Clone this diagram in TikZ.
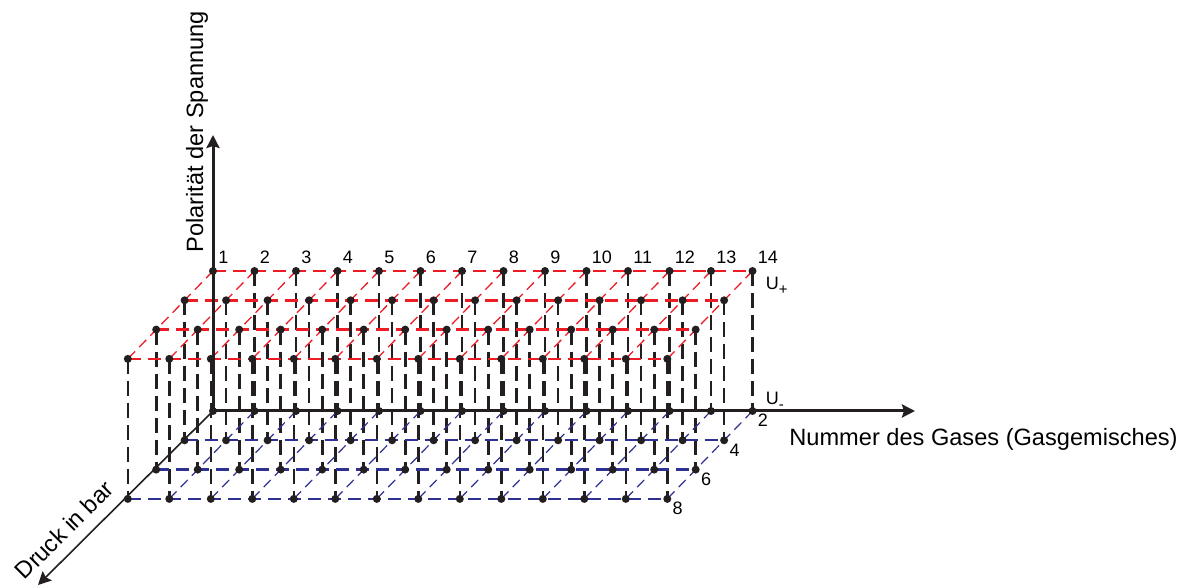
\documentclass[tikz,border=0pt]{standalone}
\usepackage{fontspec}
\setmainfont{Liberation Sans}
\usetikzlibrary{arrows.meta}
\definecolor{gridred}{RGB}{237,28,36}
\definecolor{gridblue}{RGB}{46,49,146}
\definecolor{dotblack}{RGB}{35,31,32}

\begin{document}
\begin{tikzpicture}[x=0.5pt,y=0.5pt,>={Stealth[length=6.5pt,width=6.5pt,inset=1pt]},line join=round,
  axis/.style={dotblack,line width=1.5pt,->},
  vert/.style={dotblack,line width=1.3pt,dash pattern=on 7.5pt off 3.5pt},
  rowred/.style={gridred,line width=1.3pt,dash pattern=on 6.5pt off 3.5pt},
  diagred/.style={gridred,line width=0.65pt,dash pattern=on 5pt off 3pt},
  rowblue/.style={gridblue,line width=1.2pt,dash pattern=on 6.5pt off 3.5pt},
  diagblue/.style={gridblue,line width=0.6pt,dash pattern=on 5pt off 3pt},
  numlab/.style={font=\fontsize{9}{10}\selectfont,inner xsep=2.5pt,inner ysep=3.5pt},
  axlab/.style={font=\fontsize{11.8}{14}\selectfont,inner sep=0pt}]
  \useasboundingbox (0,0) rectangle (1189,588);
  % grid points: top layer (U+) and bottom layer (U-)
  \foreach \i in {0,...,13}
    \foreach \d in {0,...,3}{
      \coordinate (t\i-\d) at ({213+41.5*\i-28.4*\d},{317-29.3*\d});
      \coordinate (b\i-\d) at ({213+41.5*\i-28.4*\d},{177-29.3*\d});
    }
  \coordinate (xend) at (915,177);
  \coordinate (yend) at (213,453);
  \coordinate (zend) at (38,3);

  \foreach \i in {0,...,13}
    \foreach \d in {0,...,3}
      \draw[vert] (t\i-\d) -- (b\i-\d);
  \foreach \d in {0,...,3}
    \draw[rowred] (t0-\d) -- (t13-\d);
  \foreach \i in {0,...,13}
    \draw[diagred] (t\i-0) -- (t\i-3);
  \foreach \d in {1,2,3}
    \draw[rowblue] (b0-\d) -- (b13-\d);
  \foreach \i in {1,...,13}
    \draw[diagblue] (b\i-0) -- (b\i-3);

  % axes
  \draw[axis] (b0-0) -- (xend);
  \draw[axis] (b0-0) -- (yend);
  \draw[axis,line width=0.8pt] (b0-0) -- (zend);

  \foreach \i in {0,...,13}
    \foreach \d in {0,...,3}{
      \fill[dotblack] (t\i-\d) circle (2pt);
      \fill[dotblack] (b\i-\d) circle (2pt);
    }

  % labels
  \foreach \i [count=\n] in {0,...,13}
    \node[numlab,above right] (n\n) at (t\i-0) {\n};
  \foreach \d [evaluate=\d as \p using int(2*\d+2)] in {0,...,3}
    \node[numlab,below right,inner ysep=1.5pt] (p\p) at (b13-\d) {\p};
  \node[axlab,font=\fontsize{9}{10}\selectfont,anchor=north west] (uplus) at ([xshift=6.5pt,yshift=-3pt]t13-0)
    {U\raisebox{-2.5pt}{\fontsize{7.5}{8}\selectfont +}};
  \node[axlab,font=\fontsize{9}{10}\selectfont,anchor=base west] (uminus) at ([xshift=6.5pt,yshift=3pt]b13-0)
    {U\raisebox{-2.5pt}{\fontsize{7.5}{8}\selectfont -}};
  \node[axlab,anchor=base west] (xlab) at (789,142) {Nummer des Gases (Gasgemisches)};
  \node[axlab,rotate=90,anchor=base west] (ylab) at (203,335) {Polarität der Spannung};
  \node[axlab,rotate=45] (zlab) at (64,58) {Druck in bar};
\end{tikzpicture}
\end{document}
